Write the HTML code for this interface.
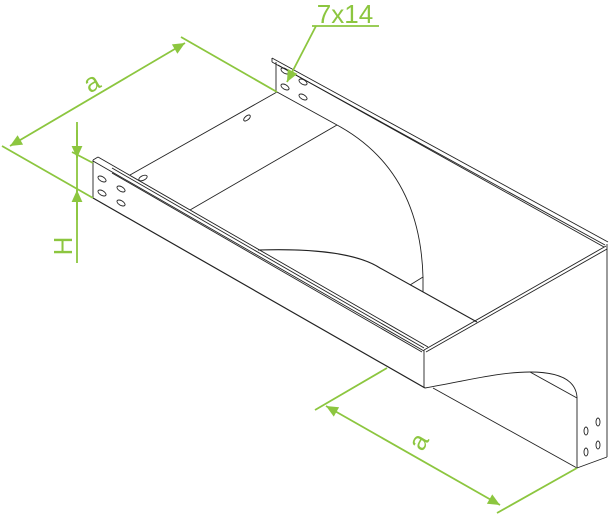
<!DOCTYPE html>
<html><head><style>
html,body{margin:0;padding:0;background:#fff;}
svg{display:block;}
</style></head><body>
<svg width="609" height="516" viewBox="0 0 609 516" xmlns="http://www.w3.org/2000/svg">
<defs>
<marker id="ar2" viewBox="0 0 10 10" refX="10" refY="5" markerWidth="20" markerHeight="12" markerUnits="userSpaceOnUse" orient="auto-start-reverse">
<path d="M0,0.5 L10,5 L0,9.5 z" fill="#8cc63f"/>
</marker>
</defs>
<g fill="none" stroke="#222" stroke-width="0.9">
<line x1="130" y1="175" x2="277" y2="92"/>
<line x1="190" y1="210" x2="337" y2="125"/>
<line x1="277" y1="92" x2="337" y2="125"/>
<path d="M337,125 Q420,170 423,277 L423,292"/>
<line x1="410" y1="285" x2="423" y2="277"/>
<path d="M258,250 C320,248 360,255 380,268 L477,322" stroke-width="1.1"/>
<line x1="272" y1="58" x2="608" y2="242"/>
<line x1="272" y1="62" x2="605" y2="245"/>
<line x1="276" y1="62" x2="276" y2="92"/>
<line x1="278" y1="65" x2="604" y2="247"/>
<line x1="272" y1="58" x2="272" y2="62"/>
<line x1="424" y1="350" x2="606" y2="246"/>
<line x1="426" y1="352" x2="607" y2="249"/>
<line x1="607" y1="244" x2="607" y2="457"/>
<line x1="577" y1="468" x2="607" y2="457"/>
<line x1="424" y1="350" x2="424" y2="388"/>
<path d="M425,388 C470,380 500,372 530,372 Q575,372 577,397 L577,468"/>
<line x1="530" y1="372" x2="577" y2="398"/>
<line x1="433" y1="388" x2="577" y2="468"/>
<line x1="93" y1="160" x2="93" y2="198"/>
<line x1="93" y1="160" x2="98" y2="157"/>
<line x1="93" y1="198" x2="425" y2="388" stroke-width="1.2"/>
<line x1="98" y1="157" x2="428" y2="347"/>
<line x1="93" y1="161" x2="424" y2="351"/>
<line x1="112" y1="168" x2="424" y2="348"/>
<line x1="112" y1="173" x2="422" y2="352"/>
</g>
<g fill="none" stroke="#222" stroke-width="0.9">
<ellipse cx="102" cy="179" rx="4.5" ry="2.3" transform="rotate(30 102 179)"/>
<ellipse cx="102" cy="193" rx="4.5" ry="2.3" transform="rotate(30 102 193)"/>
<ellipse cx="121" cy="189" rx="4.5" ry="2.3" transform="rotate(30 121 189)"/>
<ellipse cx="121" cy="203" rx="4.5" ry="2.3" transform="rotate(30 121 203)"/>
<ellipse cx="143" cy="178" rx="4.5" ry="2.3" transform="rotate(-25 143 178)"/>
<ellipse cx="247" cy="118" rx="4" ry="2" transform="rotate(-40 247 118)"/>
<ellipse cx="285" cy="71" rx="4.5" ry="2.3" transform="rotate(30 285 71)"/>
<ellipse cx="285" cy="87" rx="4.5" ry="2.3" transform="rotate(30 285 87)"/>
<ellipse cx="303" cy="82" rx="4.5" ry="2.3" transform="rotate(30 303 82)"/>
<ellipse cx="303" cy="97" rx="4.5" ry="2.3" transform="rotate(30 303 97)"/>
<ellipse cx="586" cy="431" rx="2" ry="4"/>
<ellipse cx="598" cy="422" rx="2" ry="4"/>
<ellipse cx="586" cy="452" rx="2" ry="4"/>
<ellipse cx="598" cy="445" rx="2" ry="4"/>
</g>
<g stroke="#8cc63f" stroke-width="1.8" fill="none">
<line x1="2" y1="146" x2="93" y2="198"/>
<line x1="181" y1="37" x2="277" y2="92"/>
<line x1="10" y1="146" x2="185" y2="43" marker-start="url(#ar2)" marker-end="url(#ar2)"/>
<line x1="72" y1="152" x2="93" y2="163"/>
<line x1="77" y1="122" x2="77" y2="263"/>
<line x1="77" y1="130" x2="77" y2="158" marker-end="url(#ar2)"/>
<line x1="77" y1="220" x2="77" y2="190" marker-end="url(#ar2)"/>
<line x1="315" y1="410" x2="387" y2="368"/>
<line x1="497" y1="513" x2="577" y2="468"/>
<line x1="326" y1="406" x2="500" y2="505" marker-start="url(#ar2)" marker-end="url(#ar2)"/>
<line x1="312" y1="26" x2="379" y2="26"/>
<line x1="316" y1="26" x2="287" y2="82" marker-end="url(#ar2)"/>
</g>
<g fill="#8cc63f" font-family="Liberation Sans, sans-serif">
<text x="96" y="90" font-size="26" transform="rotate(-30 96 90)" text-anchor="middle">a</text>
<text x="426" y="446" font-size="26" transform="rotate(-60 426 446)" text-anchor="middle">a</text>
<text x="72" y="246" font-size="26" transform="rotate(-90 72 246)" text-anchor="middle">H</text>
<text x="345" y="23" font-size="26" text-anchor="middle">7x14</text>
</g>
</svg>
</body></html>
